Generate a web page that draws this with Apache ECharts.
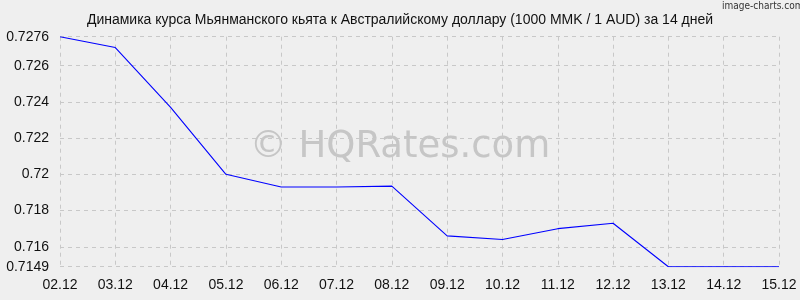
<!DOCTYPE html>
<html><head><meta charset="utf-8">
<script src="https://cdn.jsdelivr.net/npm/echarts@6/dist/echarts.min.js"></script>
<style>html,body{margin:0;padding:0;background:#efefef}#c{width:800px;height:300px}</style>
</head><body><div id="c"></div>
<script>
const categories = ['02.12','03.12','04.12','05.12','06.12','07.12','08.12','09.12','10.12','11.12','12.12','13.12','14.12','15.12'];
const rates = [0.7276,0.7270,0.7237,0.7200,0.7193,0.7193,0.71935,0.7166,0.7164,0.7170,0.7173,0.7149,0.7149,0.7149];
const yTicks = [0.7149,0.716,0.718,0.72,0.722,0.724,0.726,0.7276];
const yMin = 0.7149, yMax = 0.7276;
const titleText = 'Динамика курса Мьянманского кьята к Австралийскому доллару (1000 MMK / 1 AUD) за 14 дней';

const chart = echarts.init(document.getElementById('c'), null, {renderer:'canvas'});
const gridLine = {show:true, lineStyle:{color:'#c8c8c8', type:[4,4], width:1}};
chart.setOption({
  backgroundColor:'#efefef',
  animation:false,
  title:{text:titleText, left:'center', top:8, textStyle:{fontFamily:'Liberation Sans', fontSize:14, fontWeight:'normal', color:'#111'}},
  graphic:[
    {type:'text', left:722, top:1, z:10, style:{text:'image-charts.com', fontFamily:'DejaVu Sans Condensed', fontSize:10, fill:'#333'}},
    {type:'text', x:400, y:147, z:0, style:{text:'© HQRates.com', fontFamily:'DejaVu Sans', fontSize:37, fill:'#c6c6c6', align:'center', verticalAlign:'middle'}}
  ],
  grid:{left:60, right:21, top:36.7, bottom:33.3},
  xAxis:{type:'category', data:categories, boundaryGap:false,
    axisLine:{show:false}, axisTick:{show:false},
    axisLabel:{fontFamily:'Liberation Sans', fontSize:14, color:'#111', margin:11, interval:0},
    splitLine:gridLine},
  yAxis:{type:'value', min:yMin, max:yMax,
    axisLine:{show:false}, axisTick:{show:false, customValues:yTicks},
    axisLabel:{customValues:yTicks, fontFamily:'Liberation Sans', fontSize:14, color:'#111', margin:11},
    splitLine:gridLine},
  series:[{type:'line', data:rates, symbol:'none', lineStyle:{color:'#0000ff', width:1.1}, z:5}]
});
</script></body></html>
